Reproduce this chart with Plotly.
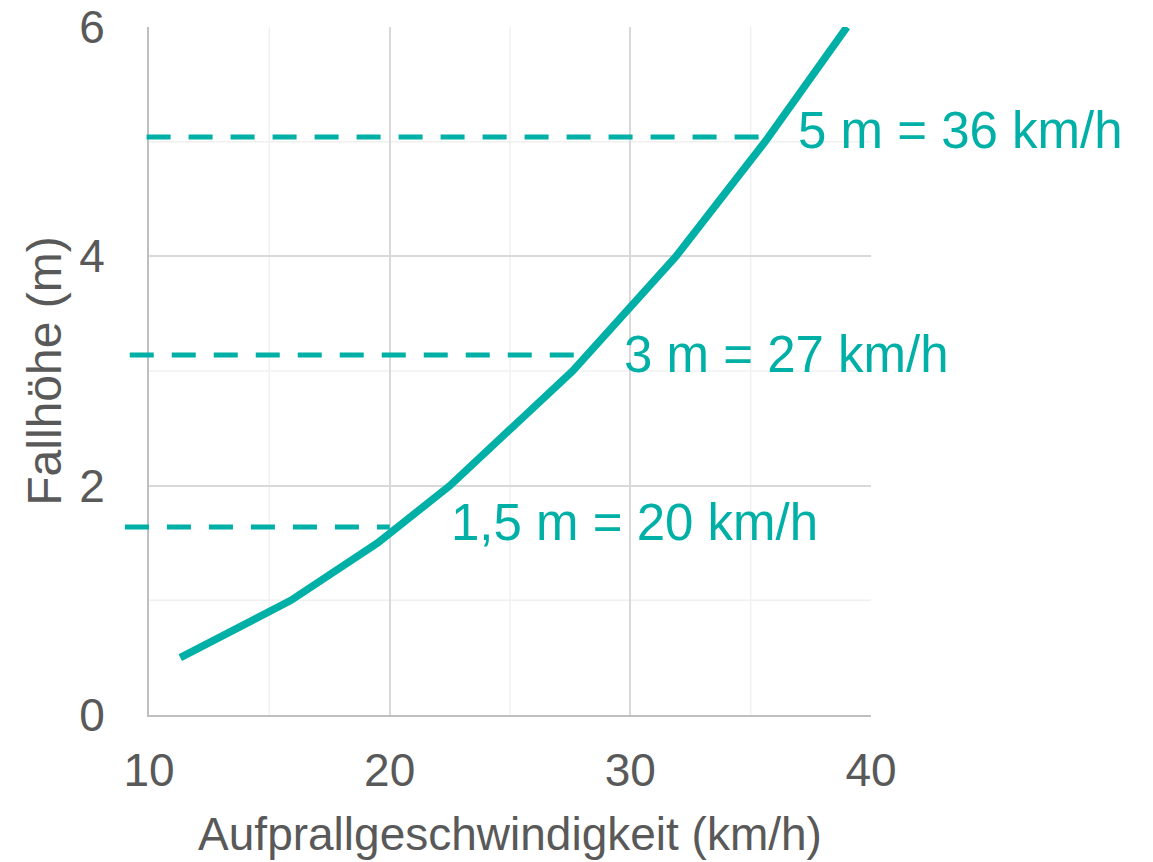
import plotly.graph_objects as go

# Data
speed_kmh = [11.3, 15.9, 19.5, 22.5, 27.6, 31.9, 35.6, 39.0]
height_m = [0.5, 1.0, 1.5, 2.0, 3.0, 4.0, 5.0, 6.0]

# Reference (dashed) lines: start speed, end speed, height
ref_x0 = [9.0, 9.2, 9.9]
ref_x1 = [20.0, 27.8, 35.8]
ref_y = [1.64, 3.14, 5.04]

label_texts = ["1,5 m = 20 km/h", "3 m = 27 km/h", "5 m = 36 km/h"]
label_x = [22.45, 29.65, 36.9]
label_y = [1.68, 3.14, 5.10]

x_ticks = [10, 20, 30, 40]
y_ticks = [0, 2, 4, 6]
x_minor = [15, 25, 35]
y_minor = [1, 3, 5]

XMIN, XMAX = 10, 40
YMIN, YMAX = 0, 6

TEAL = "#00B0A6"
GRAY = "#595959"
FONT = "Liberation Sans, Arial, sans-serif"

fig = go.Figure()
fig.add_trace(go.Scatter(
    x=speed_kmh, y=height_m, mode="lines",
    line=dict(color=TEAL, width=7.5),
    showlegend=False, hoverinfo="skip",
))

def to_paper_x(v):
    return (v - XMIN) / (XMAX - XMIN)

shapes = []
# minor gridlines
for v in x_minor:
    shapes.append(dict(type="line", xref="x", yref="y", x0=v, x1=v, y0=YMIN, y1=YMAX,
                       line=dict(color="#F0F0F0", width=1.5), layer="below"))
for v in y_minor:
    shapes.append(dict(type="line", xref="x", yref="y", x0=XMIN, x1=XMAX, y0=v, y1=v,
                       line=dict(color="#F0F0F0", width=1.5), layer="below"))
# dashed reference lines (extend slightly left of the axis)
for a, b, y in zip(ref_x0, ref_x1, ref_y):
    shapes.append(dict(type="line", xref="paper", yref="y",
                       x0=to_paper_x(a), x1=to_paper_x(b), y0=y, y1=y,
                       line=dict(color=TEAL, width=5, dash="24px,18px"), layer="above"))

annotations = []
for t, x, y in zip(label_texts, label_x, label_y):
    annotations.append(dict(x=x, y=y, xref="x", yref="y", text=t, showarrow=False,
                            xanchor="left", yanchor="middle",
                            font=dict(family=FONT, size=51, color=TEAL)))

# page has an 8px body margin, so the figure is 8px smaller and shifted
fig.update_layout(
    width=1145, height=854,
    margin=dict(l=141, r=282, t=19, b=147),
    paper_bgcolor="white", plot_bgcolor="white",
    font=dict(family=FONT, color=GRAY),
    shapes=shapes, annotations=annotations,
    showlegend=False,
)
fig.update_xaxes(
    range=[XMIN, XMAX], tickvals=x_ticks, ticktext=[str(v) for v in x_ticks],
    showgrid=True, gridcolor="#D9D9D9", gridwidth=1.5,
    showline=True, linecolor="#BFBFBF", linewidth=2,
    zeroline=False, ticks="outside", ticklen=14, tickcolor="rgba(0,0,0,0)",
    tickfont=dict(family=FONT, size=46, color=GRAY),
    automargin=False, ticklabeloverflow="allow",
    title=dict(text="Aufprallgeschwindigkeit (km/h)", standoff=23,
               font=dict(family=FONT, size=46, color=GRAY)),
)
fig.update_yaxes(
    range=[YMIN, YMAX], tickvals=y_ticks, ticktext=[str(v) for v in y_ticks],
    showgrid=True, gridcolor="#D9D9D9", gridwidth=1.5,
    showline=True, linecolor="#BFBFBF", linewidth=2,
    zeroline=False, ticks="outside", ticklen=33, tickcolor="rgba(0,0,0,0)",
    tickfont=dict(family=FONT, size=46, color=GRAY),
    automargin=False, ticklabeloverflow="allow",
    title=dict(text="Fallhöhe (m)", standoff=2,
               font=dict(family=FONT, size=48, color=GRAY)),
)

fig.write_html("out.html")
